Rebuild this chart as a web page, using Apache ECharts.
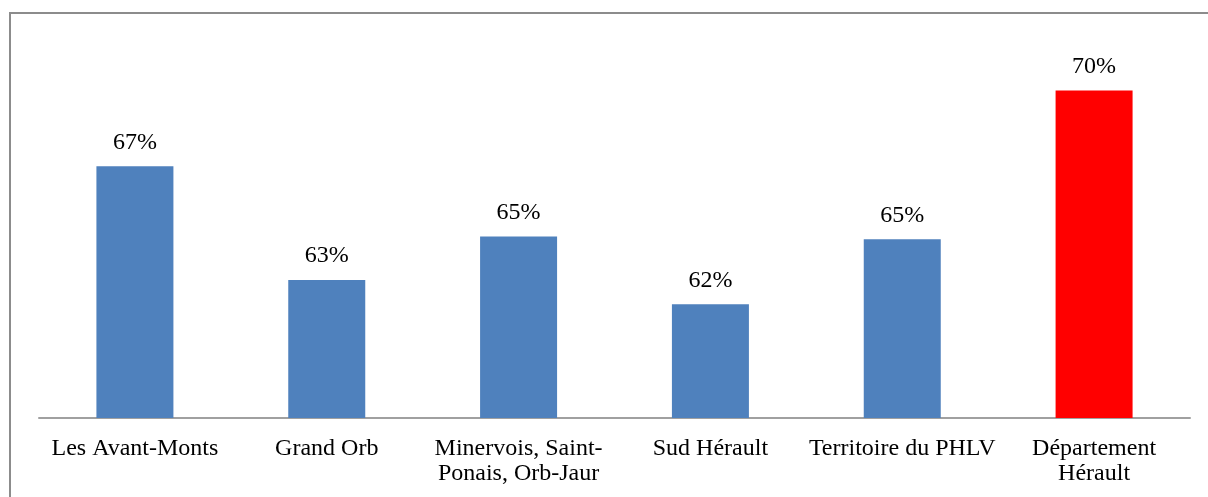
<!DOCTYPE html>
<html>
<head>
<meta charset="utf-8">
<script src="https://cdn.jsdelivr.net/npm/echarts@6/dist/echarts.min.js"></script>
<style>
  html, body { margin: 0; padding: 0; background: #fff; }
  #frame {
    position: absolute; left: 9px; top: 12px; width: 1220px; height: 520px;
    border: 2px solid #8c8c8c; box-sizing: border-box;
  }
  #chart { position: absolute; left: 0; top: 0; width: 1208px; height: 497px; }
</style>
</head>
<body>
<div id="frame"></div>
<div id="chart"></div>
<script>
const categories = ['Les Avant-Monts', 'Grand Orb', 'Minervois, Saint-\nPonais, Orb-Jaur', 'Sud Hérault', 'Territoire du PHLV', 'Département\nHérault'];
const values = [67.3, 63.1, 64.7, 62.2, 64.6, 70.1];
const barColors = ['#4f81bd', '#4f81bd', '#4f81bd', '#4f81bd', '#4f81bd', '#ff0000'];

const chart = echarts.init(document.getElementById('chart'), null, { renderer: 'canvas' });

const option = {
  animation: false,
  grid: { left: 39, right: 18, top: 39, bottom: 79 },
  xAxis: {
    type: 'category',
    data: categories,
    axisLine: { lineStyle: { color: '#a0a0a0', width: 2 } },
    axisTick: { show: false },
    axisLabel: {
      interval: 0,
      color: '#000',
      fontFamily: 'Liberation Serif',
      fontSize: 24,
      lineHeight: 25,
      margin: 18
    }
  },
  yAxis: {
    type: 'value',
    min: 58,
    max: 72,
    show: false,
    splitLine: { show: false }
  },
  series: [
    {
      type: 'bar',
      barWidth: 77,
      data: values.map((v, i) => ({ value: v, itemStyle: { color: barColors[i] } })),
      label: {
        show: true,
        position: 'top',
        distance: 12,
        color: '#000',
        fontFamily: 'Liberation Serif',
        fontSize: 24,
        formatter: p => Math.round(p.value) + '%'
      }
    }
  ]
};

chart.setOption(option);
</script>
</body>
</html>
